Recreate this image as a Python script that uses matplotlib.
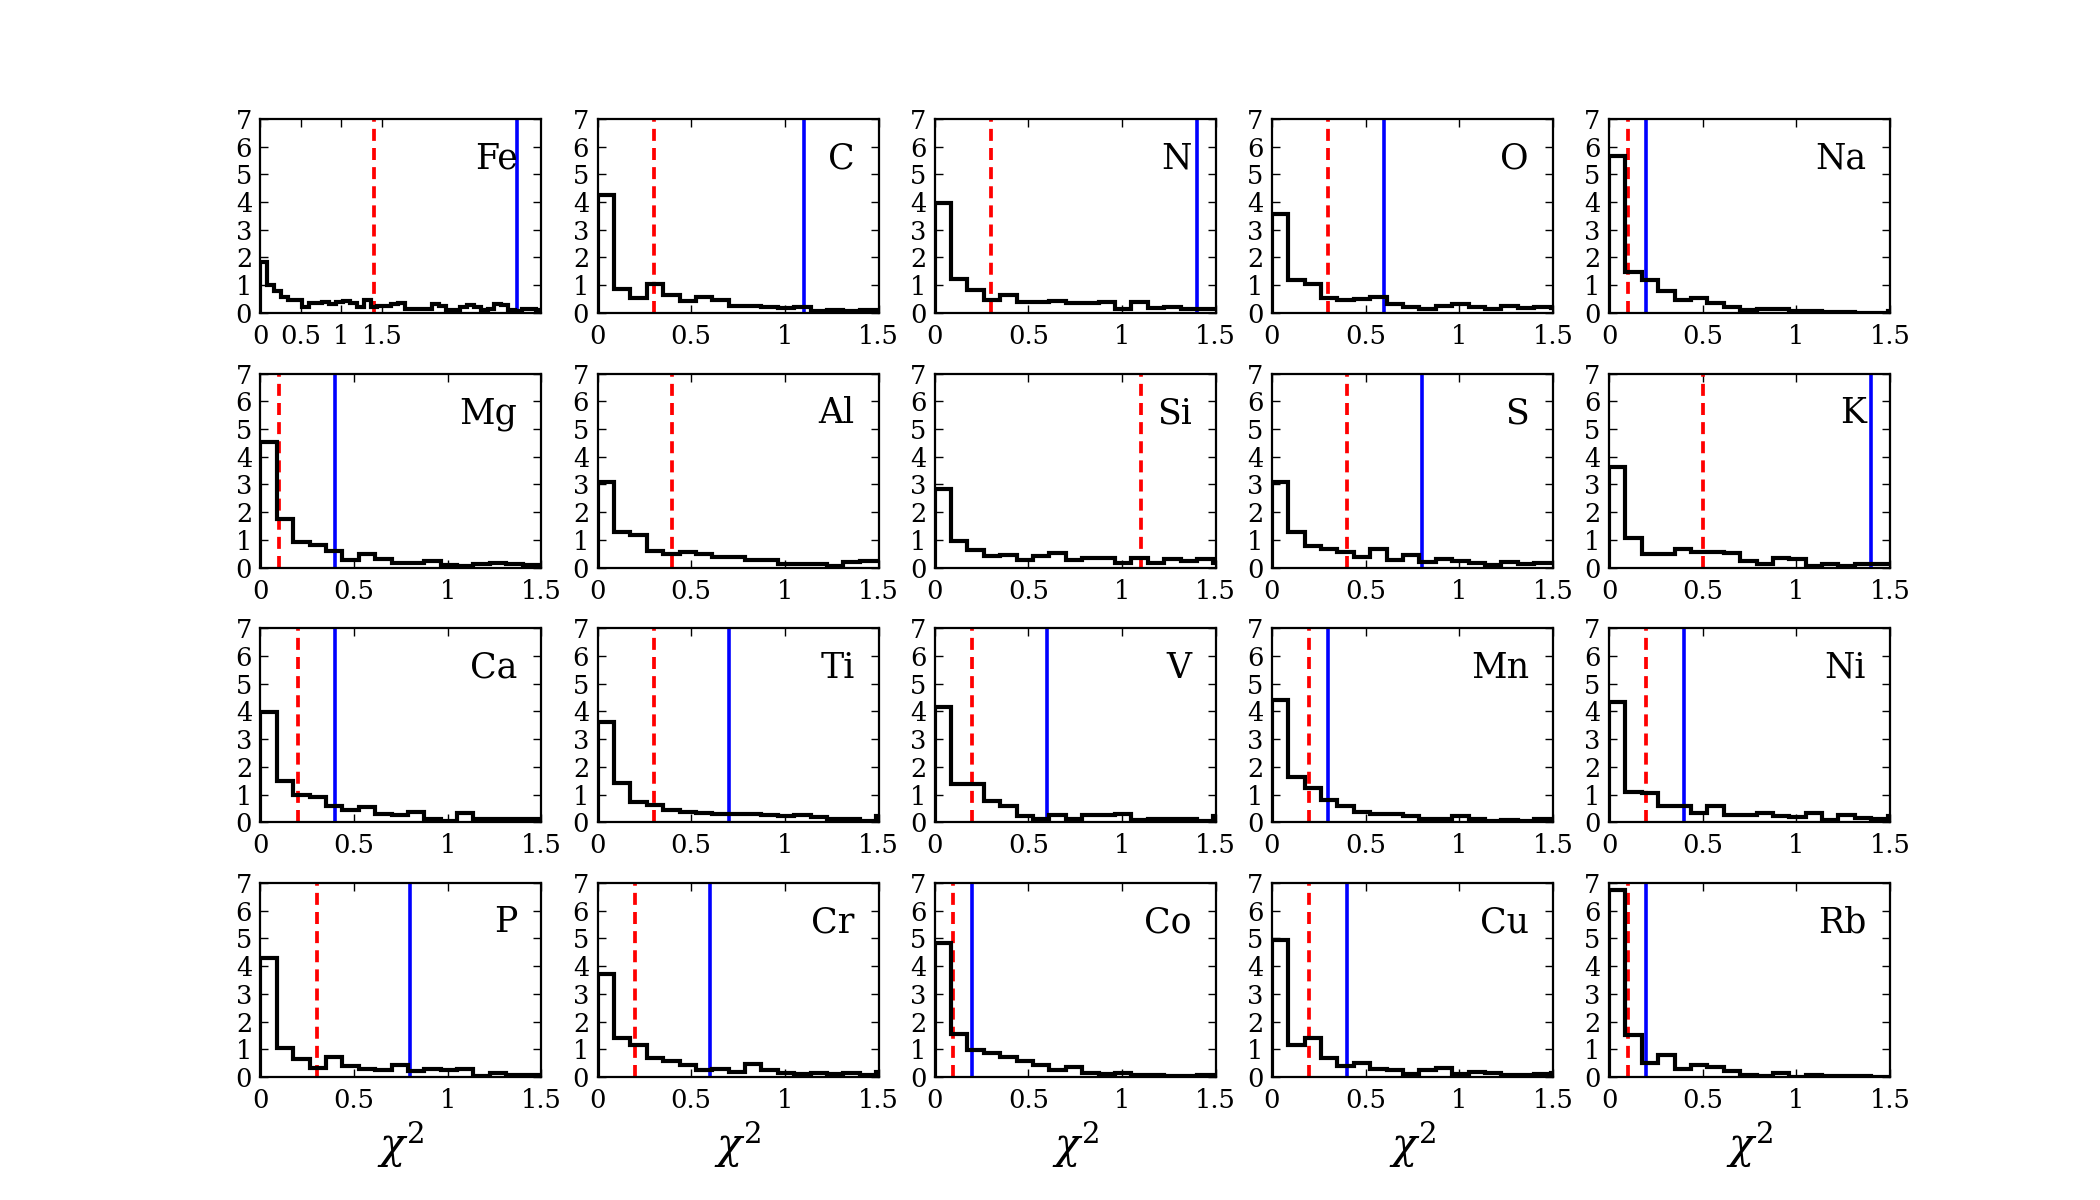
import numpy as np
import matplotlib
matplotlib.use("Agg")
import matplotlib.pyplot as plt

plt.rcParams['font.family'] = ['DejaVu Serif']
plt.rcParams['mathtext.fontset'] = 'dejavuserif'

elements = ["Fe", "C", "N", "O", "Na",
            "Mg", "Al", "Si", "S", "K",
            "Ca", "Ti", "V", "Mn", "Ni",
            "P", "Cr", "Co", "Cu", "Rb"]

bin_width = 0.0875
fe_bin_width = 0.085

hist_Fe = [1.82, 1.0, 0.78, 0.57, 0.45, 0.45, 0.22, 0.35, 0.35, 0.4, 0.3, 0.38, 0.42, 0.35,
           0.22, 0.45, 0.2, 0.25, 0.25, 0.3, 0.35, 0.15, 0.12, 0.12, 0.15, 0.3, 0.25, 0.1,
           0.1, 0.2, 0.28, 0.22, 0.1, 0.15, 0.3, 0.28, 0.1, 0.05, 0.15, 0.15, 0.1]
hist_C = [4.25, 0.87, 0.54, 1.05, 0.66, 0.42, 0.58, 0.46, 0.24, 0.26, 0.2, 0.16, 0.2, 0.06, 0.1, 0.06, 0.1, 0.1]
hist_N = [3.95, 1.23, 0.81, 0.45, 0.63, 0.38, 0.38, 0.44, 0.36, 0.36, 0.4, 0.15, 0.4, 0.18, 0.2, 0.15, 0.15, 0.12]
hist_O = [3.55, 1.2, 1.04, 0.54, 0.48, 0.51, 0.56, 0.3, 0.22, 0.12, 0.24, 0.3, 0.22, 0.12, 0.24, 0.16, 0.2, 0.18]
hist_Na = [5.66, 1.47, 1.2, 0.8, 0.48, 0.54, 0.36, 0.2, 0.1, 0.15, 0.12, 0.08, 0.06, 0.03, 0.02, 0.0, 0.0, 0.08]
hist_Mg = [4.53, 1.74, 0.93, 0.8, 0.6, 0.28, 0.5, 0.32, 0.16, 0.18, 0.22, 0.08, 0.06, 0.14, 0.17, 0.12, 0.1, 0.1]
hist_Al = [3.08, 1.29, 1.17, 0.6, 0.48, 0.57, 0.48, 0.37, 0.37, 0.27, 0.27, 0.12, 0.12, 0.12, 0.07, 0.19, 0.24, 0.24]
hist_Si = [2.85, 0.96, 0.62, 0.4, 0.45, 0.28, 0.4, 0.54, 0.28, 0.34, 0.34, 0.16, 0.36, 0.16, 0.3, 0.24, 0.3, 0.18]
hist_S = [3.08, 1.27, 0.79, 0.66, 0.57, 0.37, 0.66, 0.27, 0.46, 0.19, 0.31, 0.24, 0.16, 0.1, 0.19, 0.12, 0.18, 0.18]
hist_K = [3.62, 1.05, 0.48, 0.48, 0.66, 0.57, 0.57, 0.51, 0.22, 0.12, 0.36, 0.3, 0.04, 0.12, 0.07, 0.12, 0.12, 0.12]
hist_Ca = [3.98, 1.5, 0.99, 0.9, 0.57, 0.45, 0.55, 0.3, 0.25, 0.37, 0.13, 0.04, 0.33, 0.1, 0.1, 0.1, 0.1, 0.1]
hist_Ti = [3.62, 1.43, 0.73, 0.63, 0.45, 0.37, 0.33, 0.3, 0.3, 0.3, 0.27, 0.24, 0.27, 0.19, 0.13, 0.13, 0.04, 0.24]
hist_V = [4.16, 1.39, 1.39, 0.75, 0.57, 0.24, 0.13, 0.27, 0.13, 0.25, 0.25, 0.3, 0.07, 0.13, 0.1, 0.1, 0.04, 0.22]
hist_Mn = [4.42, 1.62, 1.23, 0.81, 0.6, 0.37, 0.3, 0.3, 0.22, 0.1, 0.13, 0.22, 0.1, 0.04, 0.07, 0.04, 0.1, 0.1]
hist_Ni = [4.34, 1.08, 1.05, 0.6, 0.6, 0.33, 0.6, 0.27, 0.27, 0.33, 0.24, 0.19, 0.33, 0.07, 0.25, 0.16, 0.1, 0.24]
hist_P = [4.3, 1.06, 0.65, 0.32, 0.72, 0.38, 0.3, 0.24, 0.42, 0.2, 0.3, 0.26, 0.3, 0.02, 0.14, 0.08, 0.08, 0.08]
hist_Cr = [3.7, 1.41, 1.17, 0.69, 0.57, 0.43, 0.24, 0.3, 0.19, 0.48, 0.25, 0.16, 0.12, 0.16, 0.1, 0.16, 0.07, 0.19]
hist_Co = [4.85, 1.55, 0.96, 0.87, 0.72, 0.57, 0.45, 0.27, 0.37, 0.13, 0.1, 0.13, 0.07, 0.07, 0.04, 0.04, 0.07, 0.07]
hist_Cu = [4.93, 1.15, 1.39, 0.67, 0.39, 0.51, 0.3, 0.25, 0.12, 0.27, 0.31, 0.1, 0.19, 0.13, 0.07, 0.07, 0.1, 0.16]
hist_Rb = [6.75, 1.52, 0.5, 0.8, 0.3, 0.42, 0.35, 0.2, 0.08, 0.05, 0.14, 0.0, 0.06, 0.02, 0.02, 0.05, 0.0, 0.0]

hists = {"Fe": hist_Fe, "C": hist_C, "N": hist_N, "O": hist_O, "Na": hist_Na,
         "Mg": hist_Mg, "Al": hist_Al, "Si": hist_Si, "S": hist_S, "K": hist_K,
         "Ca": hist_Ca, "Ti": hist_Ti, "V": hist_V, "Mn": hist_Mn, "Ni": hist_Ni,
         "P": hist_P, "Cr": hist_Cr, "Co": hist_Co, "Cu": hist_Cu, "Rb": hist_Rb}

red_cut = [1.4, 0.3, 0.3, 0.3, 0.1,
           0.1, 0.4, 1.1, 0.4, 0.5,
           0.2, 0.3, 0.2, 0.2, 0.2,
           0.3, 0.2, 0.1, 0.2, 0.1]
blue_cut = [3.17, 1.1, 1.4, 0.6, 0.2,
            0.4, None, None, 0.8, 1.4,
            0.4, 0.7, 0.6, 0.3, 0.4,
            0.8, 0.6, 0.2, 0.4, 0.2]

x_ticks = [0, 0.5, 1, 1.5]
x_tick_labels = ["0", "0.5", "1", "1.5"]
y_ticks = [0, 1, 2, 3, 4, 5, 6, 7]
fe_xmax = 3.47

fig, axes = plt.subplots(4, 5, figsize=(21, 12), dpi=100)
fig.subplots_adjust(left=0.124, right=0.9, bottom=0.1025, top=0.901, wspace=0.2, hspace=0.313)

for i, el in enumerate(elements):
    ax = axes.flat[i]
    vals = np.array(hists[el])
    bw = fe_bin_width if el == "Fe" else bin_width
    edges = np.arange(len(vals) + 1) * bw
    ax.stairs(vals, edges, color='k', lw=3.0, baseline=0, zorder=3)
    ax.axvline(red_cut[i], color='#ff0000', lw=2.7, linestyle=(0, (3.2, 1.9)), zorder=2)
    if blue_cut[i] is not None:
        ax.axvline(blue_cut[i], color='#0000ff', lw=2.6, zorder=2)
    ax.set_ylim(0, 7)
    ax.set_xlim(0, fe_xmax if el == "Fe" else 1.5)
    ax.set_xticks(x_ticks)
    ax.set_xticklabels(x_tick_labels)
    ax.set_yticks(y_ticks)
    ax.tick_params(direction='in', top=True, right=True, length=6, width=1.0,
                   labelsize=18.5, pad=6)
    ax.tick_params(axis='x', pad=8)
    for sp in ax.spines.values():
        sp.set_linewidth(1.6)
    ax.text(0.915, 0.745, el, transform=ax.transAxes, ha='right', va='baseline',
            fontsize=25, zorder=4)
    if i >= 15:
        ax.set_xlabel(r'$\chi^2$', fontsize=30, labelpad=4)

fig.savefig("out.png", dpi=100)
